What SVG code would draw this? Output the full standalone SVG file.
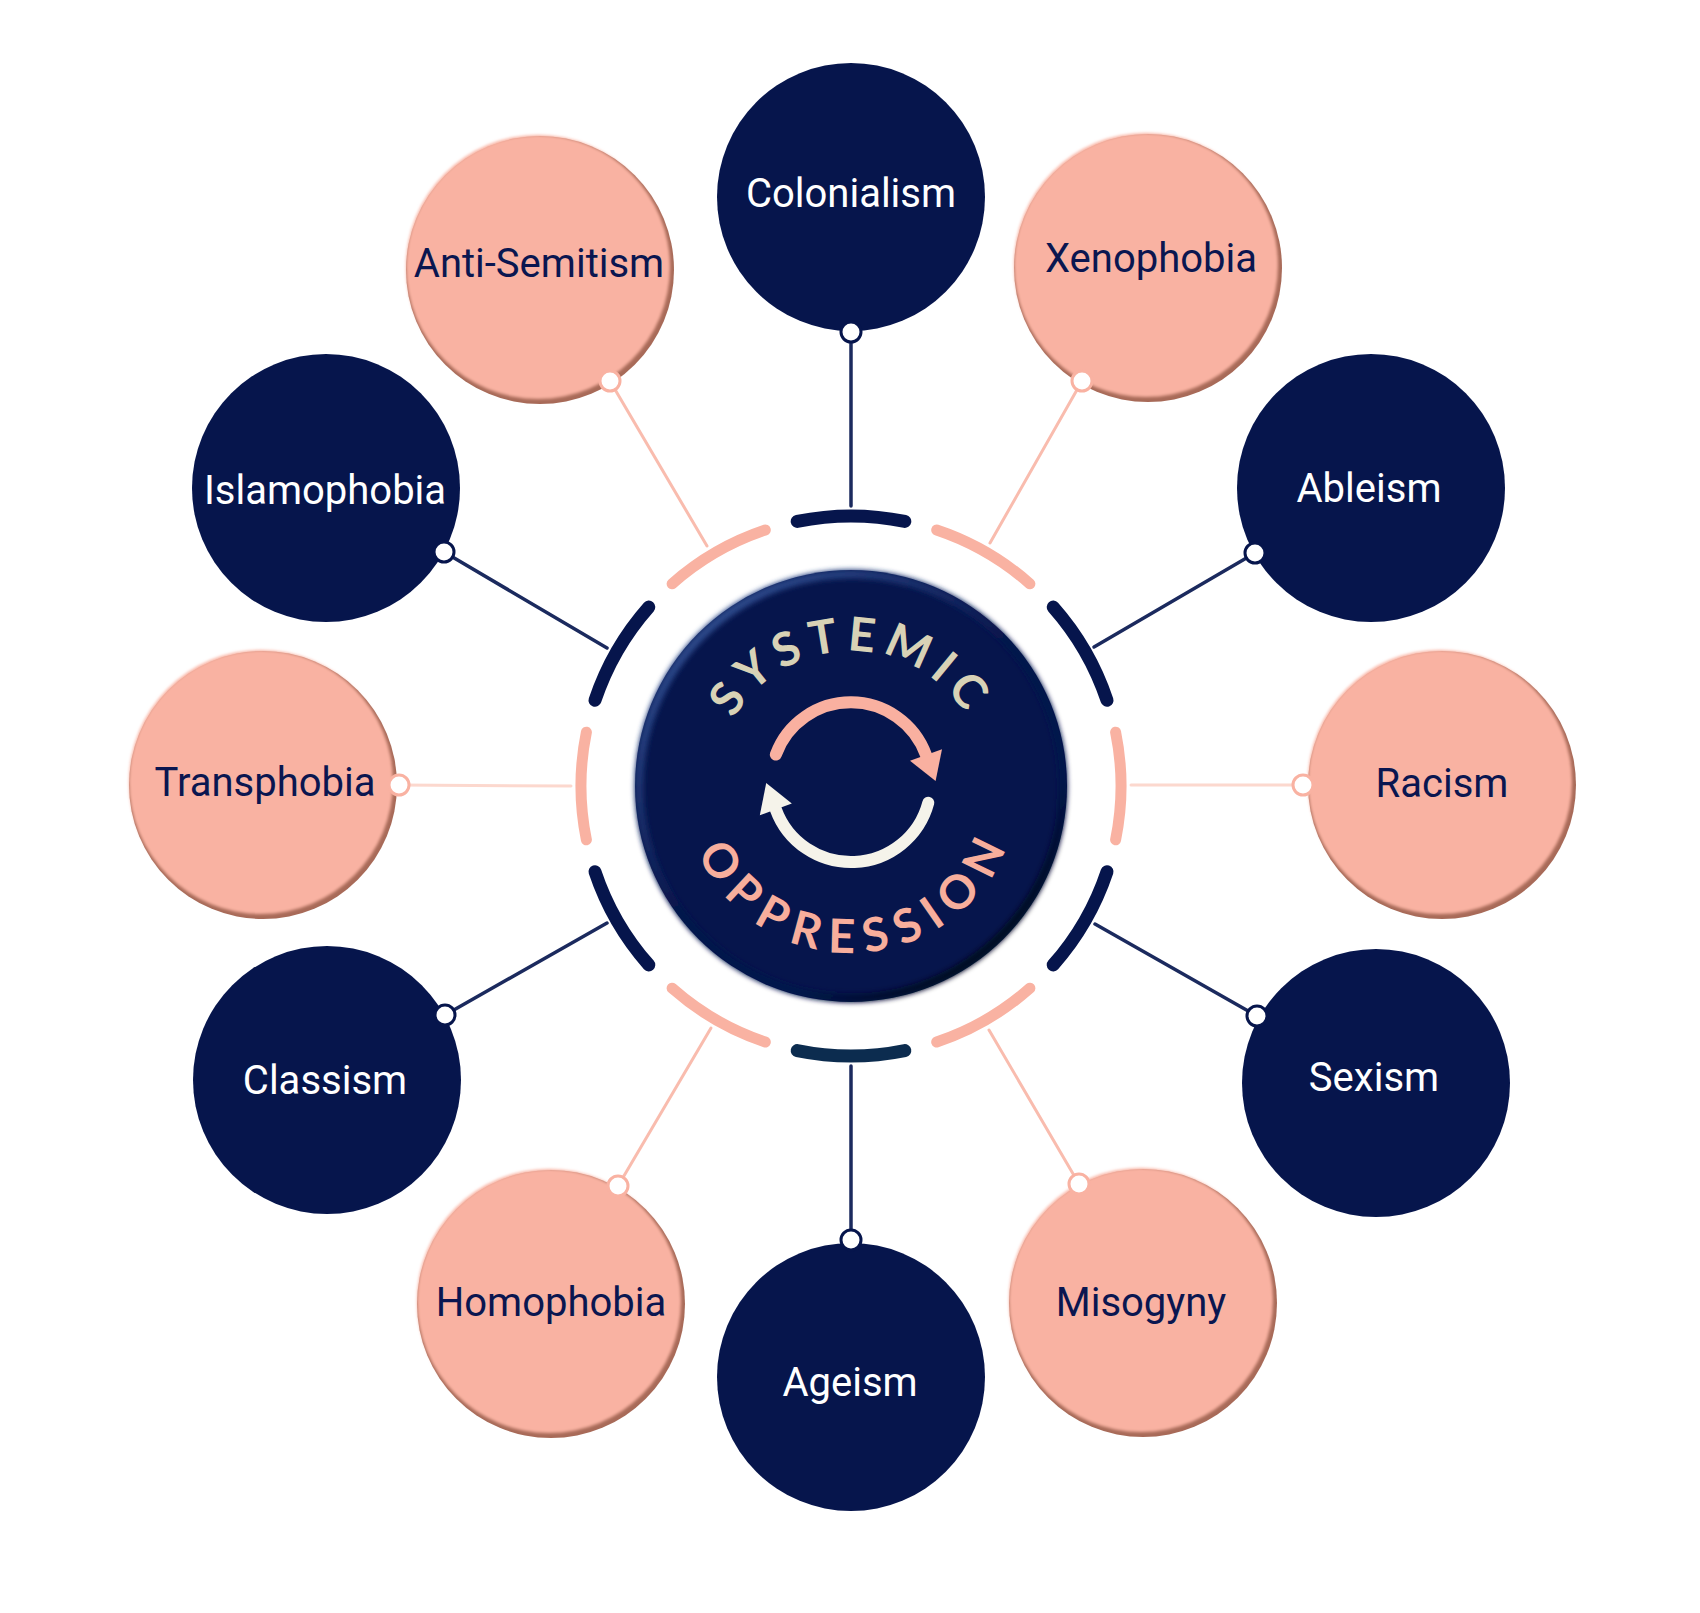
<svg xmlns="http://www.w3.org/2000/svg" width="1700" height="1613" viewBox="0 0 1700 1613">
<defs>
<style>
.navy{fill:#06154c}
.pinkbase{fill:#a86a58}
.pinkface{fill:#f9b2a2}
.lbl{font-family:Roboto,"Liberation Sans",sans-serif;font-size:40px;text-anchor:middle}
.lw{fill:#ffffff}
.ln{fill:#0a1650}
.cn{stroke:#1b2a5e;stroke-width:3.5;fill:none;stroke-linecap:round}
.cp{stroke:#f9bcae;stroke-width:3;fill:none;stroke-linecap:round}
.an{stroke:#06154c;stroke-width:13;fill:none;stroke-linecap:round}
.ap{stroke:#f9b2a2;stroke-width:11;fill:none;stroke-linecap:round}
.dn{fill:#ffffff;stroke:#06154c;stroke-width:3}
.dp{fill:#ffffff;stroke:#f9b2a2;stroke-width:3}
.arc-text{font-family:Lato,"Noto Sans",sans-serif;font-size:47px;font-weight:bold}
</style>
<filter id="soft" x="-5%" y="-5%" width="110%" height="110%"><feGaussianBlur stdDeviation="1.4"/></filter>
<filter id="soft3" x="-10%" y="-10%" width="120%" height="120%"><feGaussianBlur stdDeviation="2.5"/></filter>
<linearGradient id="rim" x1="0.15" y1="0.1" x2="0.85" y2="0.95">
<stop offset="0" stop-color="#2d4a8c"/>
<stop offset="0.45" stop-color="#06154c"/>
<stop offset="0.75" stop-color="#06154c"/>
<stop offset="1" stop-color="#000614"/>
</linearGradient>
<path id="sysArc" d="M 716,786 A 135,135 0 0 1 986,786"/>
<path id="oppArc" d="M 684,786 A 167,167 0 0 0 1018,786"/>
</defs>
<rect width="1700" height="1613" fill="#ffffff"/>

<g id="connectors">
<line class="cn" x1="851" y1="332" x2="851" y2="506"/>
<line class="cp" x1="1082" y1="381" x2="990" y2="543"/>
<line class="cn" x1="1255" y1="553" x2="1094" y2="647"/>
<line class="cp" x1="1303" y1="785" x2="1131" y2="785" style="stroke:#fcd8ce"/>
<line class="cn" x1="1257" y1="1016" x2="1095" y2="924"/>
<line class="cp" x1="1079" y1="1184" x2="989" y2="1030"/>
<line class="cn" x1="851" y1="1240" x2="851" y2="1066"/>
<line class="cp" x1="618" y1="1186" x2="711" y2="1028"/>
<line class="cn" x1="445" y1="1015" x2="607" y2="923"/>
<line class="cp" x1="399" y1="785" x2="571" y2="786" style="stroke:#fcd8ce"/>
<line class="cn" x1="444" y1="552" x2="607" y2="648"/>
<line class="cp" x1="610" y1="381" x2="707" y2="546"/>
</g>

<g id="ring">
<path class="an" d="M 797.2,521.4 A 270,270 0 0 1 904.8,521.4"/>
<path class="ap" d="M 936.7,530.0 A 270,270 0 0 1 1029.9,583.8"/>
<path class="an" d="M 1053.2,607.1 A 270,270 0 0 1 1107.0,700.3"/>
<path class="ap" d="M 1115.6,732.2 A 270,270 0 0 1 1115.6,839.8"/>
<path class="an" d="M 1107.0,871.7 A 270,270 0 0 1 1053.2,964.9"/>
<path class="ap" d="M 1029.9,988.2 A 270,270 0 0 1 936.7,1042.0"/>
<path class="an" d="M 904.8,1050.6 A 270,270 0 0 1 797.2,1050.6" style="stroke:#0c2c4f"/>
<path class="ap" d="M 765.3,1042.0 A 270,270 0 0 1 672.1,988.2"/>
<path class="an" d="M 648.8,964.9 A 270,270 0 0 1 595.0,871.7"/>
<path class="ap" d="M 586.4,839.8 A 270,270 0 0 1 586.4,732.2"/>
<path class="an" d="M 595.0,700.3 A 270,270 0 0 1 648.8,607.1"/>
<path class="ap" d="M 672.1,583.8 A 270,270 0 0 1 765.3,530.0"/>
</g>

<g id="hub">
<circle cx="851" cy="786" r="216" class="navy"/>
<circle cx="851" cy="786" r="212" fill="none" stroke="url(#rim)" stroke-width="9" filter="url(#soft3)"/>
<text class="arc-text" fill="#d8d2b6" letter-spacing="7.5"><textPath href="#sysArc" startOffset="50%" text-anchor="middle">SYSTEMIC</textPath></text>
<text class="arc-text" fill="#f7ae9c" letter-spacing="11"><textPath href="#oppArc" startOffset="51.5%" text-anchor="middle">OPPRESSION</textPath></text>
<path d="M 775.8,754.6 A 80,80 0 0 1 926,755" fill="none" stroke="#f9b0a0" stroke-width="12" stroke-linecap="round"/>
<polygon points="910,760.8 942,749.2 935.6,781" fill="#f9b0a0"/>
<path d="M 928.3,802.7 A 80,80 0 0 1 775.8,809.4" fill="none" stroke="#f5f3ea" stroke-width="12" stroke-linecap="round"/>
<polygon points="791.8,803.6 759.8,815.2 766.2,783.1" fill="#f5f3ea"/>
</g>

<g id="node-colonialism">
<circle cx="851" cy="197" r="134" class="navy"/>
<text x="851" y="207" class="lbl lw">Colonialism</text>
<circle cx="851" cy="332" r="10" class="dn"/>
</g>
<g id="node-xenophobia">
<circle cx="1148" cy="268" r="134" class="pinkbase"/>
<circle cx="1146" cy="265" r="132" class="pinkface" filter="url(#soft)"/>
<text x="1151" y="272" class="lbl ln">Xenophobia</text>
<circle cx="1082" cy="381" r="10" class="dp"/>
</g>
<g id="node-ableism">
<circle cx="1371" cy="488" r="134" class="navy"/>
<text x="1369" y="502" class="lbl lw">Ableism</text>
<circle cx="1255" cy="553" r="10" class="dn"/>
</g>
<g id="node-racism">
<circle cx="1442" cy="785" r="134" class="pinkbase"/>
<circle cx="1440" cy="782" r="132" class="pinkface" filter="url(#soft)"/>
<text x="1442" y="797" class="lbl ln">Racism</text>
<circle cx="1303" cy="785" r="10" class="dp"/>
</g>
<g id="node-sexism">
<circle cx="1376" cy="1083" r="134" class="navy"/>
<text x="1374" y="1091" class="lbl lw">Sexism</text>
<circle cx="1257" cy="1016" r="10" class="dn"/>
</g>
<g id="node-misogyny">
<circle cx="1143" cy="1303" r="134" class="pinkbase"/>
<circle cx="1141" cy="1300" r="132" class="pinkface" filter="url(#soft)"/>
<text x="1141" y="1316" class="lbl ln">Misogyny</text>
<circle cx="1079" cy="1184" r="10" class="dp"/>
</g>
<g id="node-ageism">
<circle cx="851" cy="1377" r="134" class="navy"/>
<text x="850" y="1396" class="lbl lw">Ageism</text>
<circle cx="851" cy="1240" r="10" class="dn"/>
</g>
<g id="node-homophobia">
<circle cx="551" cy="1304" r="134" class="pinkbase"/>
<circle cx="549" cy="1301" r="132" class="pinkface" filter="url(#soft)"/>
<text x="551" y="1316" class="lbl ln">Homophobia</text>
<circle cx="618" cy="1186" r="10" class="dp"/>
</g>
<g id="node-classism">
<circle cx="327" cy="1080" r="134" class="navy"/>
<text x="325" y="1094" class="lbl lw">Classism</text>
<circle cx="445" cy="1015" r="10" class="dn"/>
</g>
<g id="node-transphobia">
<circle cx="263" cy="785" r="134" class="pinkbase"/>
<circle cx="261" cy="782" r="132" class="pinkface" filter="url(#soft)"/>
<text x="265" y="796" class="lbl ln">Transphobia</text>
<circle cx="399" cy="785" r="10" class="dp"/>
</g>
<g id="node-islamophobia">
<circle cx="326" cy="488" r="134" class="navy"/>
<text x="325" y="504" class="lbl lw">Islamophobia</text>
<circle cx="444" cy="552" r="10" class="dn"/>
</g>
<g id="node-antisemitism">
<circle cx="540" cy="270" r="134" class="pinkbase"/>
<circle cx="538" cy="267" r="132" class="pinkface" filter="url(#soft)"/>
<text x="539" y="277" class="lbl ln">Anti-Semitism</text>
<circle cx="610" cy="381" r="10" class="dp"/>
</g>
</svg>
